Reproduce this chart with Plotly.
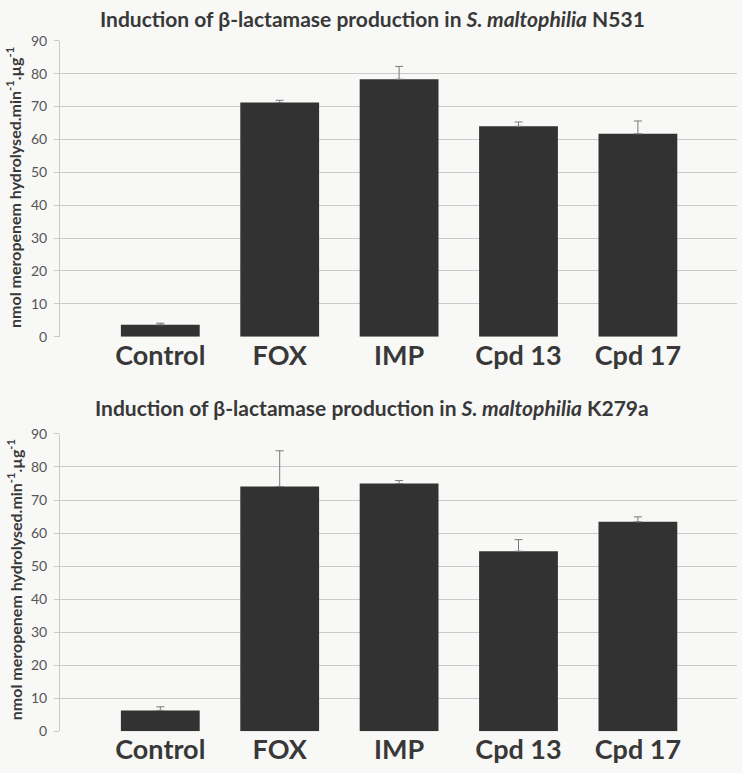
import plotly.graph_objects as go

categories = ["Control", "FOX", "IMP", "Cpd 13", "Cpd 17"]
n531_values = [3.6, 71.2, 78.3, 64.0, 61.7]
n531_errors = [0.5, 0.7, 3.9, 1.3, 3.9]
k279a_values = [6.3, 74.1, 75.0, 54.5, 63.4]
k279a_errors = [1.1, 10.8, 0.9, 3.5, 1.5]
y_ticks = [0, 10, 20, 30, 40, 50, 60, 70, 80, 90]
titles = ["Induction of β-lactamase production in <i>S. maltophilia</i> N531",
          "Induction of β-lactamase production in <i>S. maltophilia</i> K279a"]
y_title = "nmol meropenem hydrolysed.min<sup>-1</sup>.µg<sup>-1</sup>"

FONT = "Lato, Carlito, sans-serif"
W, H = 742, 773
L, R = 60, 5

fig = go.Figure()
xs = list(range(len(categories)))
for i, (vals, errs) in enumerate([(n531_values, n531_errors), (k279a_values, k279a_errors)]):
    ax = "" if i == 0 else "2"
    fig.add_trace(go.Bar(
        x=xs, y=vals, width=0.66,
        marker=dict(color="#323232", line=dict(width=0)),
        error_y=dict(type="data", array=errs, arrayminus=[0]*len(errs), symmetric=False,
                     color="#7a7a7a", thickness=1, width=4),
        xaxis="x" + ax, yaxis="y" + ax, showlegend=False))

def ydom(top_px, bot_px):
    return [1 - bot_px / H, 1 - top_px / H]

common_x = dict(range=[-0.84, 4.83], tickmode="array", tickvals=xs,
                ticktext=["<b>%s</b>" % c for c in categories],
                tickfont=dict(family=FONT, size=27, color="#383838"),
                showgrid=False, zeroline=False, showline=False, ticks="")
common_y = dict(range=[0, 90], tickmode="array", tickvals=y_ticks,
                tickfont=dict(family=FONT, size=14, color="#555555"),
                showgrid=True, gridcolor="#cacaca", gridwidth=1,
                zeroline=False, showline=True, linecolor="#cacaca",
                ticks="outside", ticklen=5, tickcolor="#cacaca",
                ticklabelstandoff=4)

fig.update_layout(
    width=W, height=H,
    margin=dict(l=L, r=R, t=0, b=0),
    paper_bgcolor="#f8f8f7", plot_bgcolor="#f8f8f7",
    xaxis=dict(domain=[0, 1], anchor="y", **common_x),
    yaxis=dict(domain=ydom(32.5, 335.0), anchor="x", **common_y),
    xaxis2=dict(domain=[0, 1], anchor="y2", **common_x),
    yaxis2=dict(domain=ydom(434.5, 738.5), anchor="x2", **common_y),
)

pw = W - L - R
for t, ypx in zip(titles, [10, 407]):
    fig.add_annotation(text="<b>%s</b>" % t, xref="paper", yref="paper",
                       x=(372 - L) / pw, y=1 - ypx / H, xanchor="center", yanchor="middle",
                       showarrow=False, font=dict(family=FONT, size=21, color="#383838"))

for ycen in [183, 584]:
    fig.add_annotation(text="<b>%s</b>" % y_title, xref="paper", yref="paper",
                       x=(14 - L) / pw, y=1 - ycen / H, xanchor="center", yanchor="middle",
                       textangle=-90, showarrow=False,
                       font=dict(family=FONT, size=16, color="#383838"))

fig.write_html("out.html", config={"displayModeBar": False})
with open("out.html", "r", encoding="utf-8") as f:
    html = f.read()
style = ("<style>html,body{margin:0;padding:0;overflow:hidden;width:742px;height:773px;}"
         "body>div{position:absolute;top:0;left:0;}</style>")
html = html.replace("<head>", "<head>" + style, 1)
with open("out.html", "w", encoding="utf-8") as f:
    f.write(html)
